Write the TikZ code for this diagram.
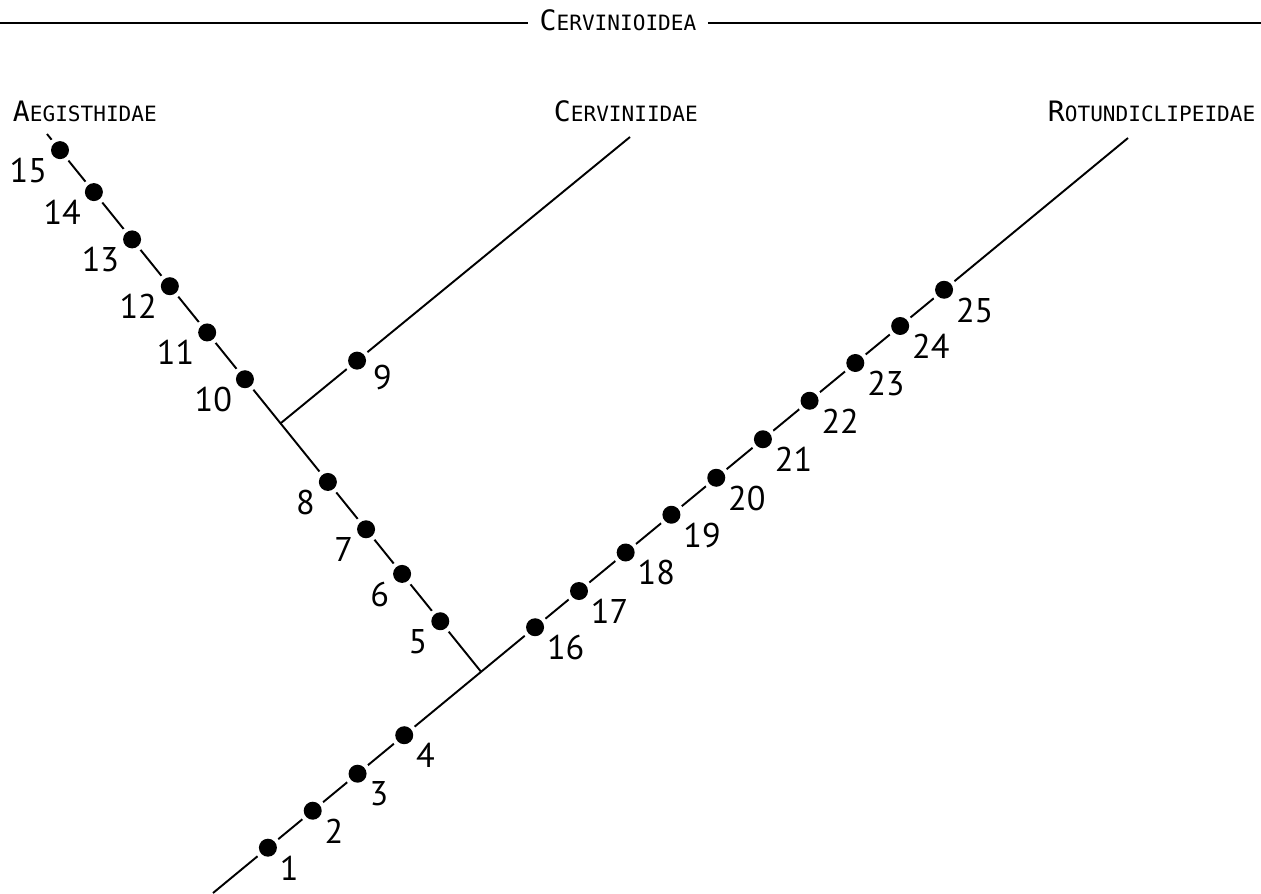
\documentclass[tikz,border=0pt]{standalone}
\usepackage{fontspec}
\usetikzlibrary{calc}
\newfontfamily\labfont{DejaVu Sans Mono}
\newfontfamily\numfont{PT Sans}
\newcommand\fakesc[2]{{\fontsize{16}{16}\selectfont #1}{\fontsize{12}{12}\selectfont #2}}

\begin{document}
\begin{tikzpicture}[x=0.02cm, y=-0.02cm, line width=1.1pt,
  dot/.style={circle, fill=black, inner sep=0pt, minimum size=0.36cm, preaction={draw=white, line width=5pt}},
  numr/.style={anchor=north west, inner sep=0pt, font=\numfont\fontsize{19.5}{20}\selectfont},
  numl/.style={anchor=north east, inner sep=0pt, font=\numfont\fontsize{19.5}{20}\selectfont},
  clade/.style={anchor=base west, inner sep=0pt, font=\labfont}]
\useasboundingbox (0,0) rectangle (1261,893);
\node[font=\labfont, inner sep=6pt, anchor=base] (title) at (618,30) {\fakesc{C}{ERVINIOIDEA}};
\coordinate (tl) at (0,23);
\coordinate (tr) at (1261,23);
\draw[line width=1pt] (tl) -- (title.west |- tl);
\draw[line width=1pt] (title.east |- tr) -- (tr);
\node[clade] (aeg) at (12,121) {\fakesc{A}{EGISTHIDAE}};
\node[clade] (cer) at (553,121) {\fakesc{C}{ERVINIIDAE}};
\node[clade] (rot) at (1047,121) {\fakesc{R}{OTUNDICLIPEIDAE}};
\coordinate (root) at (213,893);
\coordinate (tipR) at (1128,138);
\coordinate (tipL) at (47,134);
\coordinate (tipC) at (630,137);
\coordinate (jA) at ($(root)!0.293!(tipR)$);
\coordinate (jB) at ($(jA)!0.462!(tipL)$);
\draw (root) -- (tipR);
\draw (jA) -- (tipL);
\draw (jB) -- (tipC);
\foreach \n/\t in {1/0.060,2/0.109,3/0.158,4/0.209,16/0.352,17/0.400,18/0.451,19/0.501,20/0.550,21/0.601,22/0.652,23/0.702,24/0.751,25/0.799}
{
  \node[dot] (d\n) at ($(root)!\t!(tipR)$) {};
  \node[numr] (n\n) at ([shift={(11,7)}]d\n.center) {\n};
}
\foreach \n/\t in {5/0.094,6/0.182,7/0.265,8/0.353,10/0.544,11/0.631,12/0.717,13/0.804,14/0.892,15/0.970}
{
  \node[dot] (d\n) at ($(jA)!\t!(tipL)$) {};
  \node[numl] (n\n) at ([shift={(-12,7)}]d\n.center) {\n};
}
\node[dot] (d9) at ($(jB)!0.219!(tipC)$) {};
\node[numr] (n9) at ([shift={(15,4)}]d9.center) {9};
\end{tikzpicture}
\end{document}
